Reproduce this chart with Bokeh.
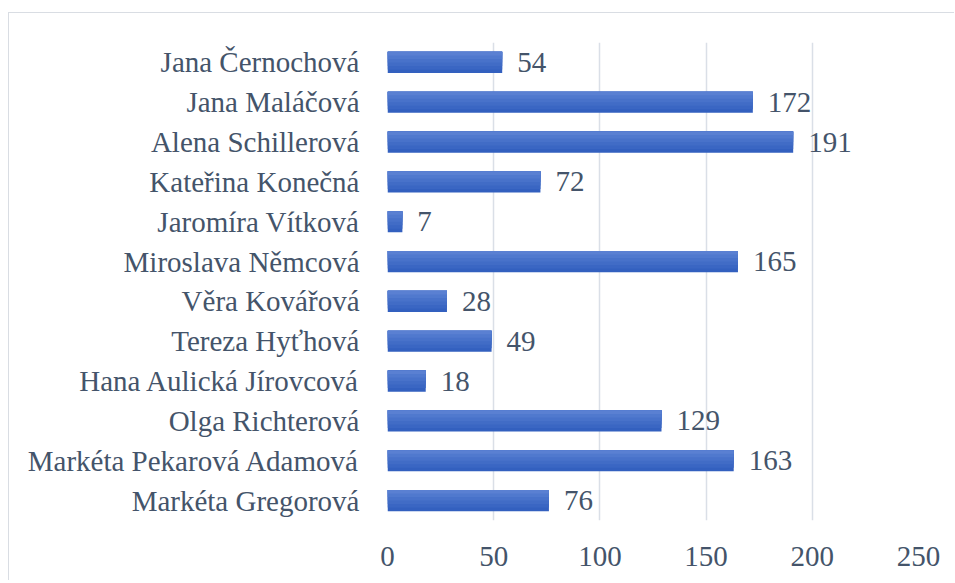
from bokeh.plotting import figure
from bokeh.models import FactorRange, Range1d, FixedTicker, ColumnDataSource
from bokeh.transform import dodge
from bokeh.core.properties import value
from bokeh.embed import file_html
from bokeh.resources import INLINE

names = ["Jana Černochová", "Jana Maláčová", "Alena Schillerová", "Kateřina Konečná",
         "Jaromíra Vítková", "Miroslava Němcová", "Věra Kovářová", "Tereza Hyťhová",
         "Hana Aulická Jírovcová", "Olga Richterová", "Markéta Pekarová Adamová",
         "Markéta Gregorová"]
counts = [54, 172, 191, 72, 7, 165, 28, 49, 18, 129, 163, 76]
x_ticks = [0, 50, 100, 150, 200, 250]

FONT = "Liberation Serif"
TXT = "#44546A"
FS = "29px"

src = ColumnDataSource(dict(name=names, count=counts))

p = figure(width=946, height=568, output_backend="svg", toolbar_location=None,
           y_range=FactorRange(factors=list(reversed(names))),
           x_range=Range1d(0, 250),
           min_border_left=378, min_border_right=37, min_border_top=29,
           min_border_bottom=61)
p.styles = {"margin-left": "8px", "margin-top": "12px",
            "border-top": "1px solid #d9dde3", "border-left": "1px solid #d9dde3"}
p.outline_line_color = None

# gradient-like bars: nested layers from dark (full bar) to light (top strip)
bar_h = 0.53
colors = ["#3360bf", "#3a66c3", "#416cc6", "#4872ca", "#5079ce", "#5a80d2"]
n = len(colors)
for i, c in enumerate(colors):
    h = bar_h * (n - i) / n
    off = bar_h / 2 - h / 2
    p.hbar(y=dodge("name", off, range=p.y_range), right="count", left=0,
           height=h, source=src, fill_color=c, line_color=None)

p.text(x="count", y="name", text="count", source=src, x_offset=15,
       text_baseline="middle", text_align="left", text_font=value(FONT),
       text_font_size=FS, text_color=TXT)

p.xaxis.ticker = FixedTicker(ticks=x_ticks)
p.xaxis.axis_line_color = None
p.xaxis.major_tick_line_color = None
p.xaxis.minor_tick_line_color = None
p.xaxis.major_label_text_font = FONT
p.xaxis.major_label_text_font_size = FS
p.xaxis.major_label_text_color = TXT
p.xaxis.major_label_standoff = 20

p.yaxis.axis_line_color = None
p.yaxis.major_tick_line_color = None
p.yaxis.minor_tick_line_color = None
p.yaxis.major_label_text_font = FONT
p.yaxis.major_label_text_font_size = FS
p.yaxis.major_label_text_color = TXT
p.yaxis.major_label_standoff = 22

p.ygrid.grid_line_color = None
p.xgrid.grid_line_color = "#dadfe7"
p.xgrid.grid_line_width = 1.5

open("out.html", "w").write(file_html(p, INLINE))
